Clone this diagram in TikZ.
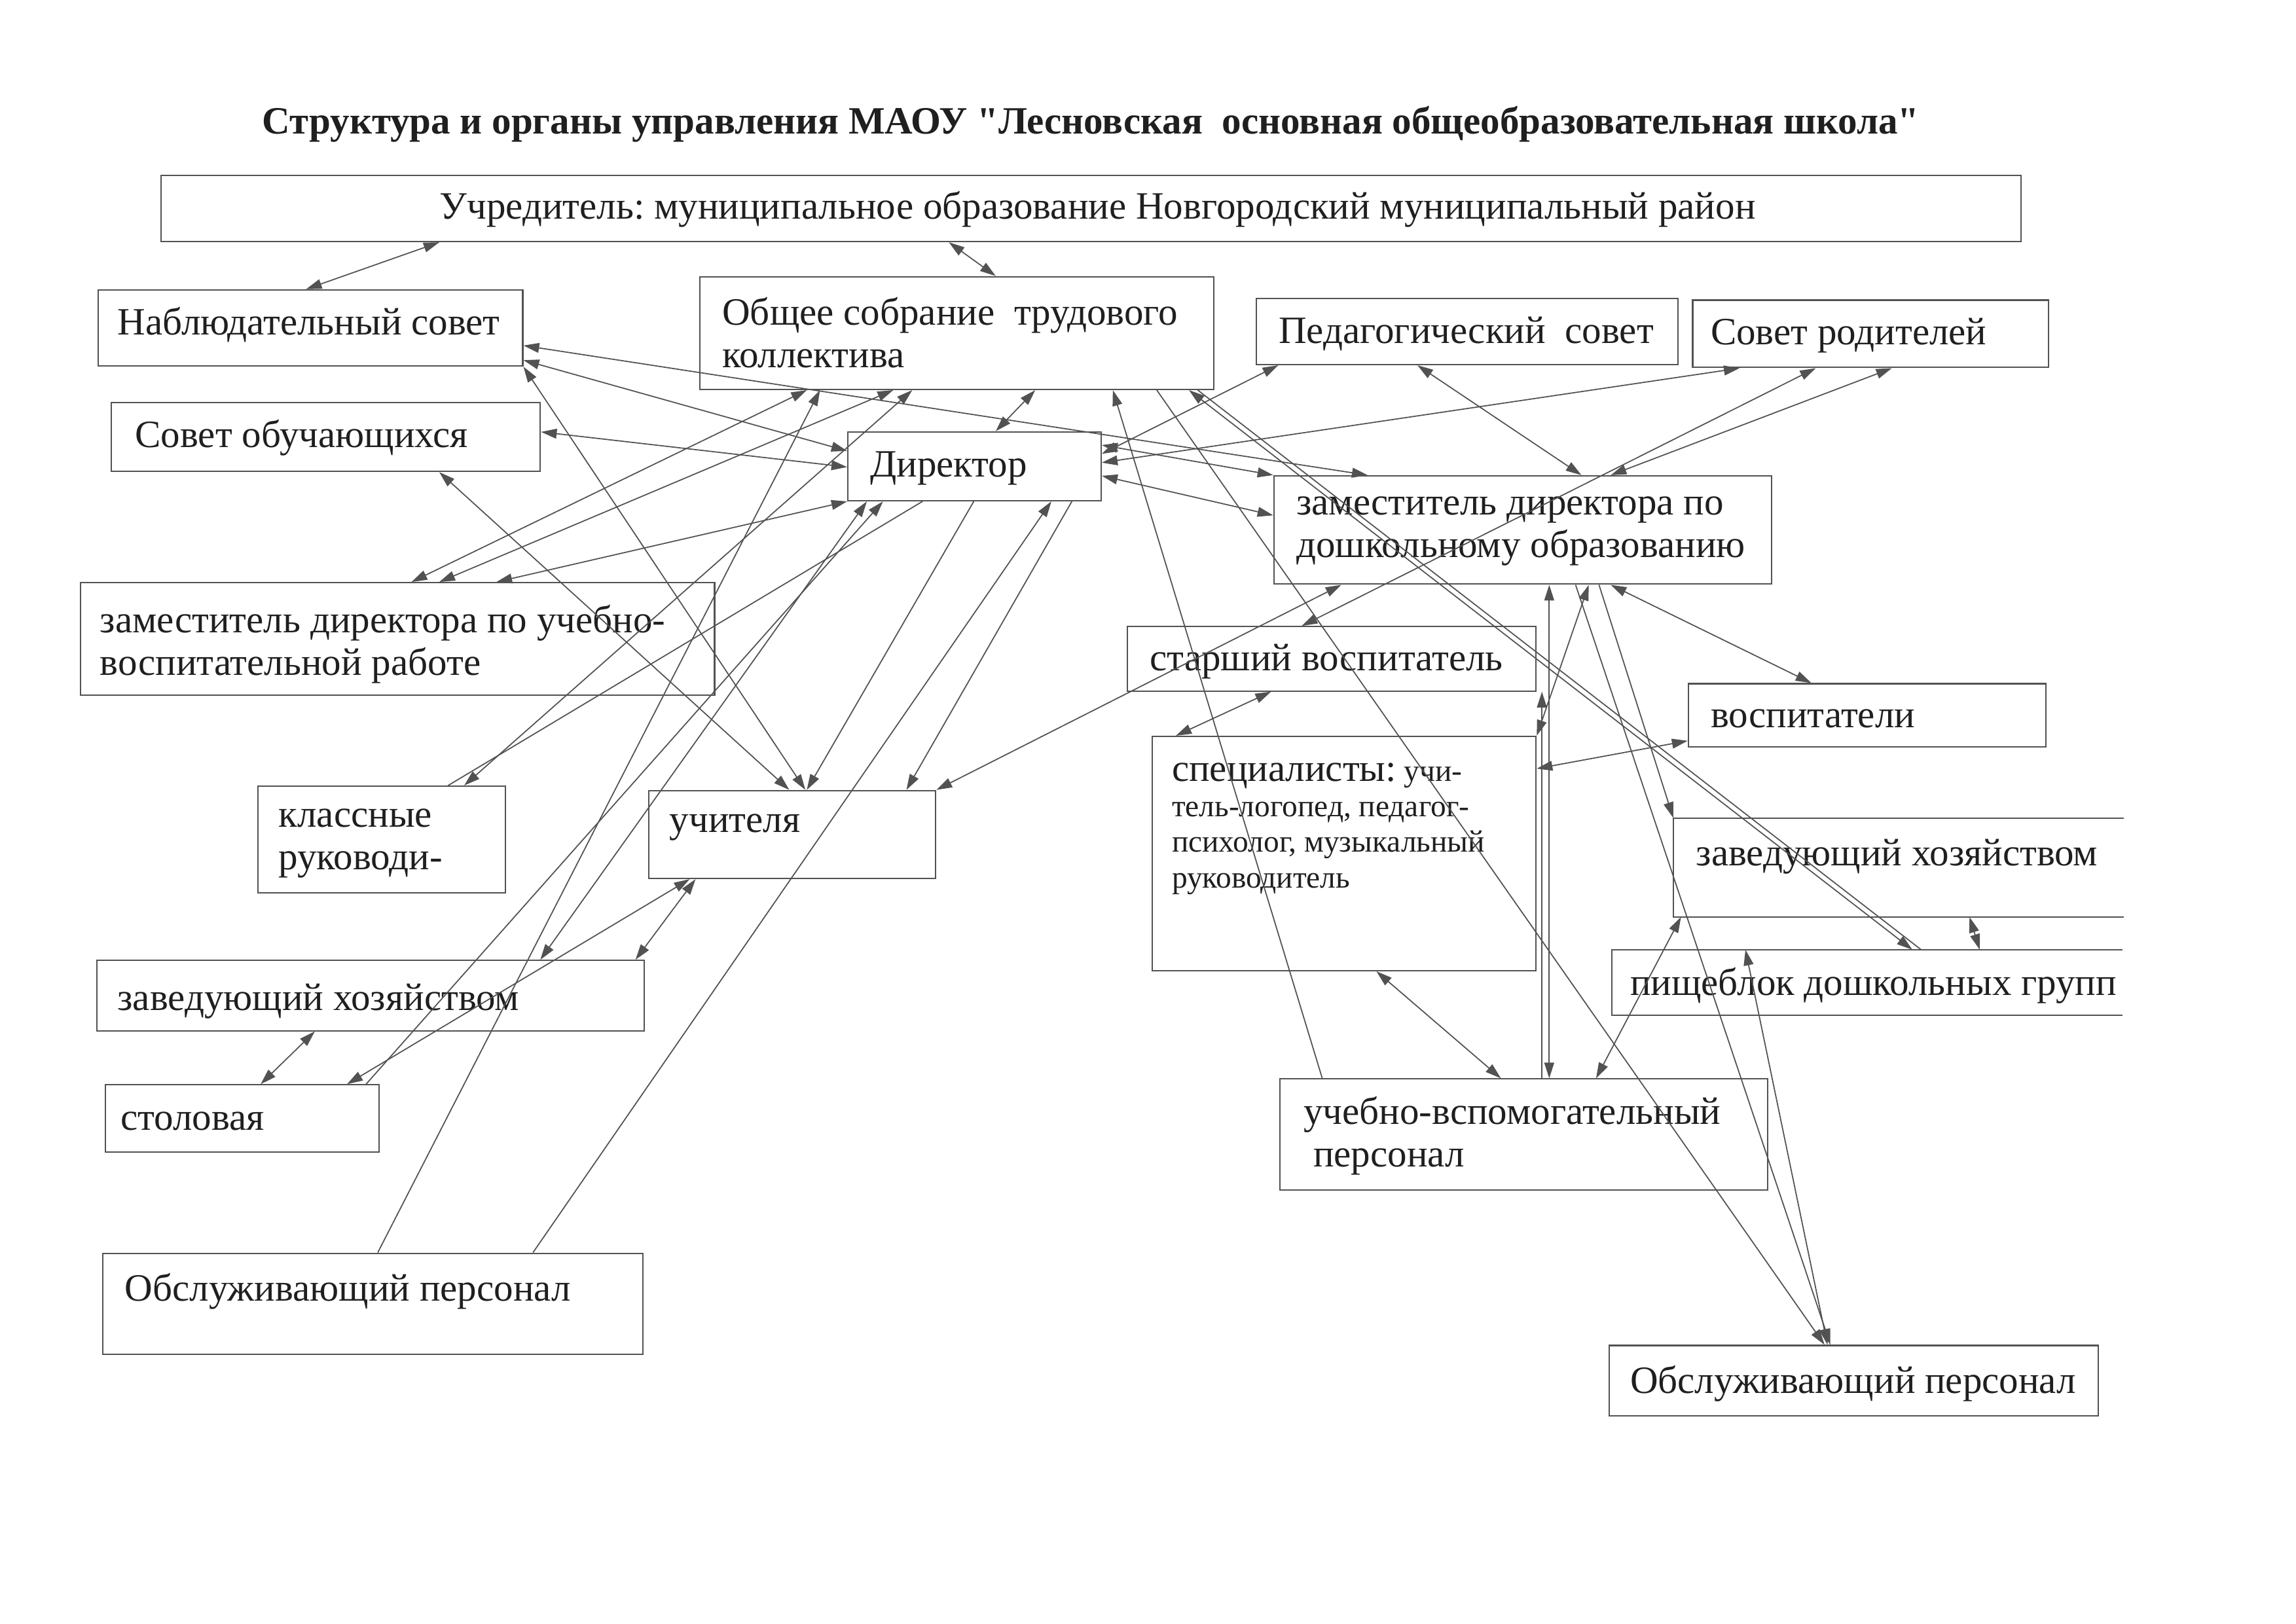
\documentclass[tikz,border=0pt]{standalone}
\usepackage{fontspec}
\setmainfont{Liberation Serif}[Ligatures=TeXOff]
\usepackage{tikz}
\usetikzlibrary{arrows.meta,fit,calc}
\definecolor{ink}{gray}{0.32}
\definecolor{txtc}{gray}{0.12}
\frenchspacing

\begin{document}
\begin{tikzpicture}[
  x=0.022366cm, y=-0.022366cm,
  box/.style={draw=ink, line width=0.6pt, inner sep=0pt},
  obox/.style={inner sep=0pt},
  lbl/.style={anchor=west, inner sep=0pt, align=left, text=txtc, font=\fontsize{16.8}{18.5}\selectfont},
  con/.style={draw=ink, line width=0.5pt},
  both/.style={con, {Triangle[length=2.4mm,width=1.5mm]}-{Triangle[length=2.4mm,width=1.5mm]}},
  fwd/.style={con, -{Triangle[length=2.4mm,width=1.5mm]}}
]
\useasboundingbox (0,0) rectangle (1568,1109);
\node[font=\bfseries\fontsize{16.8}{20}\selectfont, text=txtc] (title) at (745,85) {Структура и органы управления МАОУ "Лесновская\ \ основная общеобразовательная школа"};

\node[box, fit={(110,120) (1380,165)}] (uchr) {};
\node[box, fit={(67,198) (357,250)}] (nabl) {};
\node[box, fit={(478,189) (829,266)}] (obsh) {};
\node[box, fit={(858,204) (1146,249)}] (ped) {};
\node[box, fit={(1156,205) (1399,251)}] (rod) {};
\node[box, fit={(76,275) (369,322)}] (sovob) {};
\node[box, fit={(579,295) (752,342)}] (dir) {};
\node[box, fit={(55,398) (488,475)}] (zuvr) {};
\node[box, fit={(870,325) (1210,399)}] (zdo) {};
\node[box, fit={(770,428) (1049,472)}] (starsh) {};
\node[box, fit={(1153,467) (1397,510)}] (vosp) {};
\node[box, fit={(787,503) (1049,663)}] (spec) {};
\node[obox, fit={(1143,559) (1450,626)}] (zkr) {};
\node[obox, fit={(1101,649) (1449,693)}] (pish) {};
\node[box, fit={(874,737) (1207,813)}] (uvp) {};
\node[box, fit={(1099,919) (1433,967)}] (obr) {};
\node[box, fit={(176,537) (345,610)}] (klass) {};
\node[box, fit={(443,540) (639,600)}] (uch) {};
\node[box, fit={(66,656) (440,704)}] (zkl) {};
\node[box, fit={(72,741) (259,787)}] (stol) {};
\node[box, fit={(70,856) (439,925)}] (obl) {};
\draw[box] (zkr.north east) -- (zkr.north west) -- (zkr.south west) -- (zkr.south east);
\draw[box] (pish.north east) -- (pish.north west) -- (pish.south west) -- (pish.south east);

\node[lbl] (uchr-t) at (300,143) {Учредитель: муниципальное образование Новгородский муниципальный район};
\node[lbl] (nabl-t) at (80,222) {Наблюдательный совет};
\node[lbl] (obsh-t) at (493,227) {Общее собрание\ \ трудового\\коллектива};
\node[lbl] (ped-t) at (873,228) {Педагогический\ \ совет};
\node[lbl] (rod-t) at (1168,229) {Совет родителей};
\node[lbl] (sovob-t) at (92,299) {Совет обучающихся};
\node[lbl] (dir-t) at (594,320) {Директор};
\node[lbl] (zuvr-t) at (68,440) {заместитель директора по учебно-\\воспитательной работе};
\node[lbl] (zdo-t) at (885,363) {заместитель директора по\\дошкольному образованию};
\node[lbl] (starsh-t) at (785,452) {старший воспитатель};
\node[lbl] (vosp-t) at (1168,491) {воспитатели};
\node[lbl, font=\fontsize{13.5}{15.5}\selectfont] (spec-t) at (800,566) {{\fontsize{16.8}{15.5}\selectfont специалисты:} учи-\\тель-логопед, педагог-\\психолог, музыкальный\\руководитель};
\node[lbl] (zkr-t) at (1158,585) {заведующий хозяйством};
\node[lbl] (pish-t) at (1113,673) {пищеблок дошкольных групп};
\node[lbl] (uvp-t) at (890,776) {учебно-вспомогательный\\\ персонал};
\node[lbl] (obr-t) at (1113,945) {Обслуживающий персонал};
\node[lbl] (klass-t) at (190,576) {классные\\руководи-};
\node[lbl] (uch-t) at (457,565) {учителя};
\node[lbl] (zkl-t) at (80,684) {заведующий хозяйством};
\node[lbl] (stol-t) at (82,766) {столовая};
\node[lbl] (obl-t) at (85,882) {Обслуживающий персонал};

\draw[both] (nabl.north -| 209,0) -- (uchr.south -| 300,0);
\draw[both] (uchr.south -| 648,0) -- (obsh.north -| 680,0);
\draw[both] (nabl.east |- 0,236) -- (zdo.north -| 934,0);
\draw[both] (nabl.east |- 0,246) -- (dir.west |- 0,308);
\draw[both] (nabl.south east) -- (uch.north -| 550,0);
\draw[both] (sovob.east |- 0,295) -- (dir.west |- 0,319);
\draw[both] (sovob.south -| 300,0) -- (uch.north -| 539,0);
\draw[both] (obsh.south -| 551,0) -- (zuvr.north -| 281,0);
\draw[both] (obsh.south -| 610,0) -- (zuvr.north -| 300,0);
\draw[both] (dir.south west) -- (zuvr.north -| 339,0);
\draw[both] (obsh.south -| 623,0) -- (klass.north -| 317,0);
\draw[con] (dir.south -| 630,0) -- (klass.north -| 306,0);
\draw[both] (dir.north -| 680,0) -- (obsh.south -| 707,0);
\draw[fwd] (stol.north -| 250,0) -- (dir.south -| 603,0);
\draw[both] (stol.north -| 237,0) -- (uch.south -| 471,0);
\draw[both] (zkl.north -| 434,0) -- (uch.south -| 475,0);
\draw[both] (zkl.south -| 215,0) -- (stol.north -| 178,0);
\draw[both] (zkl.north -| 369,0) -- (dir.south -| 592,0);
\draw[fwd] (dir.south -| 665,0) -- (uch.north -| 551,0);
\draw[fwd] (dir.south -| 732,0) -- (uch.north -| 619,0);
\draw[fwd] (obl.north -| 364,0) -- (dir.south -| 718,0);
\draw[fwd] (obl.north -| 258,0) -- (obsh.south -| 560,0);

\draw[both] (dir.east |- 0,310) -- (ped.south -| 873,0);
\draw[both] (dir.east |- 0,316) -- (rod.south -| 1188,0);
\draw[both] (zdo.north -| 1080,0) -- (ped.south -| 968,0);
\draw[both] (zdo.north -| 1100,0) -- (rod.south -| 1292,0);
\draw[both] (starsh.north -| 889,0) -- (rod.south -| 1240,0);
\draw[both] (dir.east |- 0,325) -- (zdo.west |- 0,352);
\draw[both] (dir.east |- 0,304) -- (zdo.north west);
\draw[fwd] (uvp.north -| 903,0) -- (obsh.south -| 760,0);
\draw[both] (obsh.south -| 812,0) -- (pish.north -| 1306,0);
\draw[con] (obsh.south -| 818,0) -- (pish.north -| 1312,0);
\draw[both] (zkr.south -| 1345,0) -- (pish.north -| 1352,0);
\draw[both] (zdo.south -| 1100,0) -- (vosp.north -| 1237,0);
\draw[fwd] (zdo.south -| 1092,0) -- (zkr.north west);
\draw[both] (zdo.south -| 1058,0) -- (uvp.north -| 1058,0);
\draw[fwd] (uvp.north -| 1053,0) -- (starsh.south -| 1053,0);
\draw[both] (uvp.north -| 1090,0) -- (zkr.south -| 1148,0);
\draw[both] (zdo.south -| 1085,0) -- (spec.north east);
\draw[both] (spec.east |- 0,525) -- (vosp.west |- 0,506);
\draw[both] (pish.north -| 1192,0) -- (obr.north -| 1248,0);
\draw[both] (starsh.south -| 868,0) -- (spec.north -| 803,0);
\draw[both] (spec.south -| 940,0) -- (uvp.north -| 1025,0);
\draw[both] (uch.north east) -- (zdo.south -| 916,0);
\draw[fwd] (zdo.south -| 1076,0) -- (obr.north -| 1250,0);
\draw[fwd] (obsh.south -| 790,0) -- (obr.north -| 1246,0);
\end{tikzpicture}
\end{document}
